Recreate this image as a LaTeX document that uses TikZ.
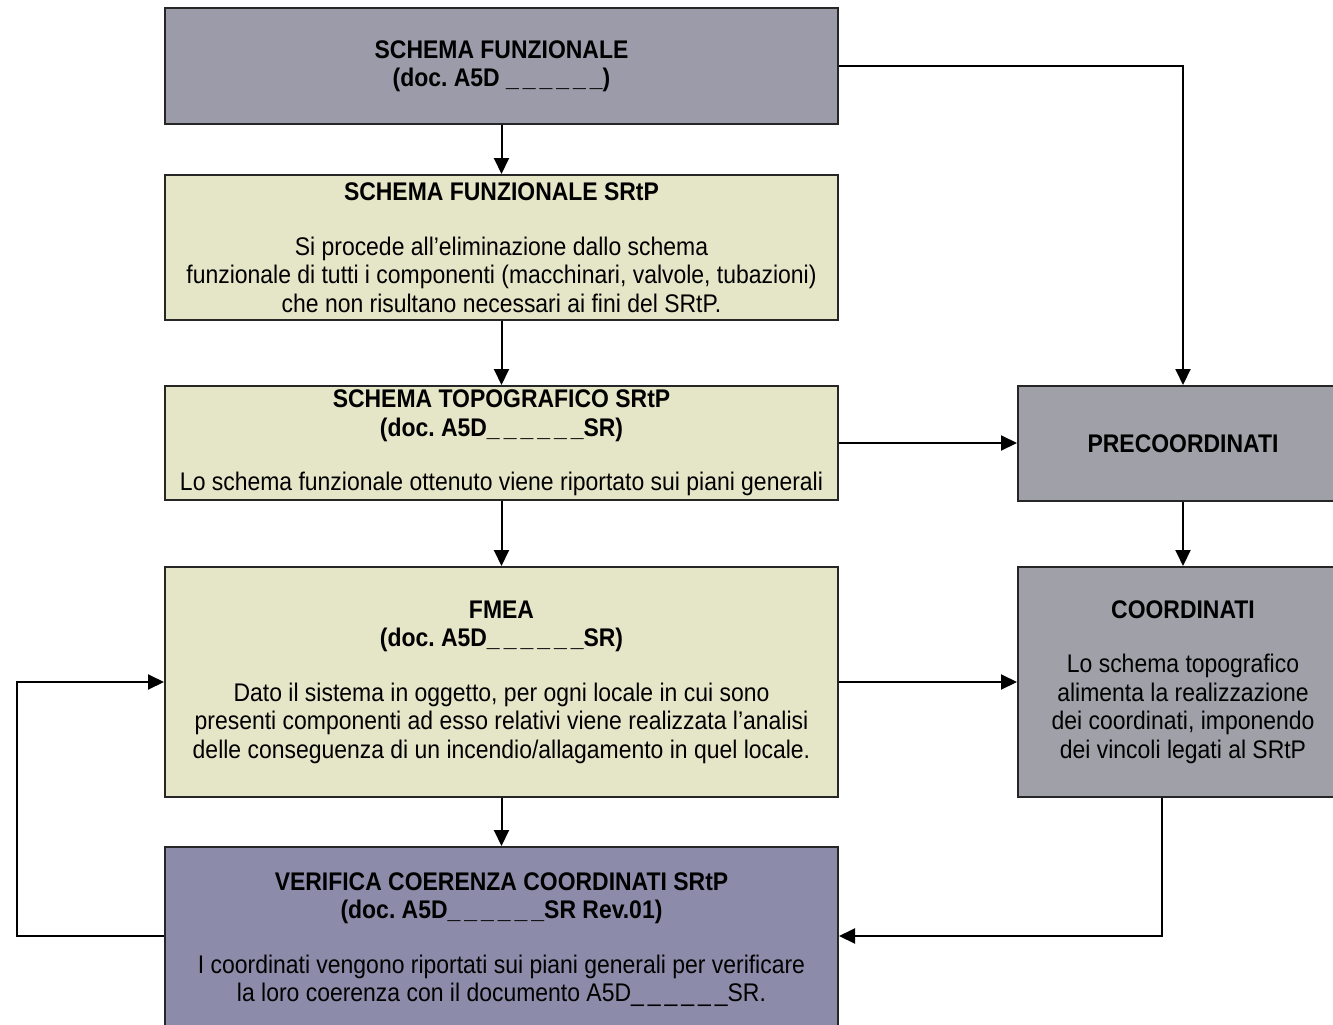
\documentclass[tikz,border=0pt]{standalone}
\usepackage{fontspec}
\setmainfont[FakeStretch=0.9]{Liberation Sans}
\usetikzlibrary{arrows.meta}

\definecolor{boxgray}{RGB}{155,155,170}
\definecolor{boxpurple}{RGB}{140,140,170}
\definecolor{boxyellow}{RGB}{229,230,199}
\definecolor{sidegray}{RGB}{160,160,168}

\newcommand\blanks{\_\kern4pt\_\kern4pt\_\kern4pt\_\kern4pt\_\kern4pt\_}

\tikzset{
  blk/.style={draw=black!85, line width=2pt, align=center, inner sep=0pt,
    font=\fontsize{25.5}{28.5}\selectfont\frenchspacing},
  wideblk/.style={blk, minimum width=673pt},
  sideblk/.style={blk, minimum width=330pt, fill=sidegray, minimum height=230pt},
  link/.style={line width=2pt, -{Triangle[length=16pt,width=15pt]}}
}

\begin{document}
\begin{tikzpicture}[x=1pt,y=-1pt]
  \useasboundingbox (0,0) rectangle (1333,1025);
  \fill[white] (0,0) rectangle (1333,1025);

  % Schema funzionale (gray)
  \node[wideblk, fill=boxgray, minimum height=116pt] (funz) at (501.5,66)
    {\textbf{SCHEMA FUNZIONALE}\\\textbf{(doc. A5D \blanks)}};

  % Schema funzionale SRtP (yellow)
  \node[wideblk, fill=boxyellow, minimum height=145pt] (srtp) at (501.5,247.5)
    {\textbf{SCHEMA FUNZIONALE SRtP}\\[26pt]
     Si procede all'eliminazione dallo schema\\
     funzionale di tutti i componenti (macchinari, valvole, tubazioni)\\
     che non risultano necessari ai fini del SRtP.};

  % Schema topografico (yellow)
  \node[wideblk, fill=boxyellow, minimum height=114pt] (topo) at (501.5,443)
    {\textbf{SCHEMA TOPOGRAFICO SRtP}\\\textbf{(doc. A5D\blanks SR)}\\[26pt]
     Lo schema funzionale ottenuto viene riportato sui piani generali};

  % FMEA (yellow)
  \node[wideblk, fill=boxyellow, minimum height=230pt] (fmea) at (501.5,682)
    {\textbf{FMEA}\\\textbf{(doc. A5D\blanks SR)}\\[26pt]
     Dato il sistema in oggetto, per ogni locale in cui sono\\
     presenti componenti ad esso relativi viene realizzata l'analisi\\
     delle conseguenza di un incendio/allagamento in quel locale.};

  % Verifica coerenza (purple)
  \node[wideblk, fill=boxpurple, minimum height=185pt] (verif) at (501.5,939.5)
    {\textbf{VERIFICA COERENZA COORDINATI SRtP}\\\textbf{(doc. A5D\blanks SR Rev.01)}\\[26pt]
     I coordinati vengono riportati sui piani generali per verificare\\
     la loro coerenza con il documento A5D\blanks SR.};

  % Precoordinati and coordinati (right column)
  \node[sideblk, minimum height=115pt] (precoord) at (1183,443.5) {\textbf{PRECOORDINATI}};
  \node[sideblk] (coord) at (1183,682)
    {\textbf{COORDINATI}\\[26pt]
     Lo schema topografico\\
     alimenta la realizzazione\\
     dei coordinati, imponendo\\
     dei vincoli legati al SRtP};

  % Connectors
  \draw[link] (funz) -- (srtp);
  \draw[link] (srtp) -- (topo);
  \draw[link] (topo) -- (fmea);
  \draw[link] (fmea) -- (verif);
  \draw[link] (funz.east) -| (precoord.north);
  \draw[link] (topo.east) -- (topo.east -| precoord.west);
  \draw[link] (precoord) -- (coord);
  \draw[link] (fmea.east) -- (fmea.east -| coord.west);
  \draw[link] ([xshift=-21pt]coord.south) |- ([yshift=3.5pt]verif.east);
  \draw[link] ([yshift=3.5pt]verif.west) -- ++(-147,0) |- (fmea.west);
\end{tikzpicture}
\end{document}
